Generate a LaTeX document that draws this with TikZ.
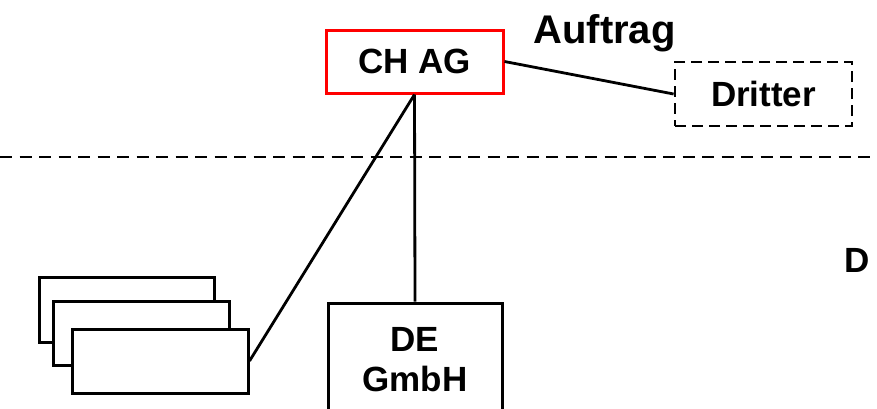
\documentclass[tikz,border=0pt]{standalone}
\usepackage{fontspec}
\setmainfont{Liberation Sans}
\begin{document}
\begin{tikzpicture}[x=1pt,y=-1pt,
  every node/.style={font=\bfseries\fontsize{35}{42}\selectfont, inner sep=0pt},
  box/.style={draw=black, line width=3pt, fill=white, rectangle},
  redbox/.style={draw=red, line width=3pt, fill=white, rectangle},
  dbox/.style={draw=black, line width=2.8pt, dash pattern=on 11pt off 6pt, rectangle},
  conn/.style={draw=black, line width=2.8pt},
  sep/.style={draw=black, line width=2.5pt, dash pattern=on 12pt off 7.5pt}]
\clip (0,0) rectangle (877,408);
\useasboundingbox (0,0) rectangle (877,408);
% separator
\coordinate (l) at (0,157);
\coordinate (r) at (877,157);
\draw[sep] (l) -- (r);
% nodes
\node[redbox, minimum width=177pt, minimum height=63pt] (ch) at (414.5,61.5) {CH AG};
\node[dbox, minimum width=177pt, minimum height=64pt] (dr) at (763.5,94) {Dritter};
\node[anchor=base, font=\bfseries\fontsize{40}{48}\selectfont] (auf) at (604.5,43) {Auftrag};
\node[anchor=base] (d) at (857,272) {D};
\node[box, minimum width=175pt, minimum height=65pt] (s1) at (126.5,309.5) {};
\node[box, minimum width=176pt, minimum height=64pt] (s2) at (141,333) {};
\node[box, minimum width=176pt, minimum height=64pt] (s3) at (160,361) {};
\node[box, minimum width=174pt, minimum height=114pt, align=center] (de) at (415,360) {DE\\[-2pt]GmbH};
% connectors
\draw[conn] (ch.east) -- (dr.west);
\draw[conn] (ch.south) -- (de.north);
\draw[conn] (ch.south) -- (s3.east);
\end{tikzpicture}
\end{document}
